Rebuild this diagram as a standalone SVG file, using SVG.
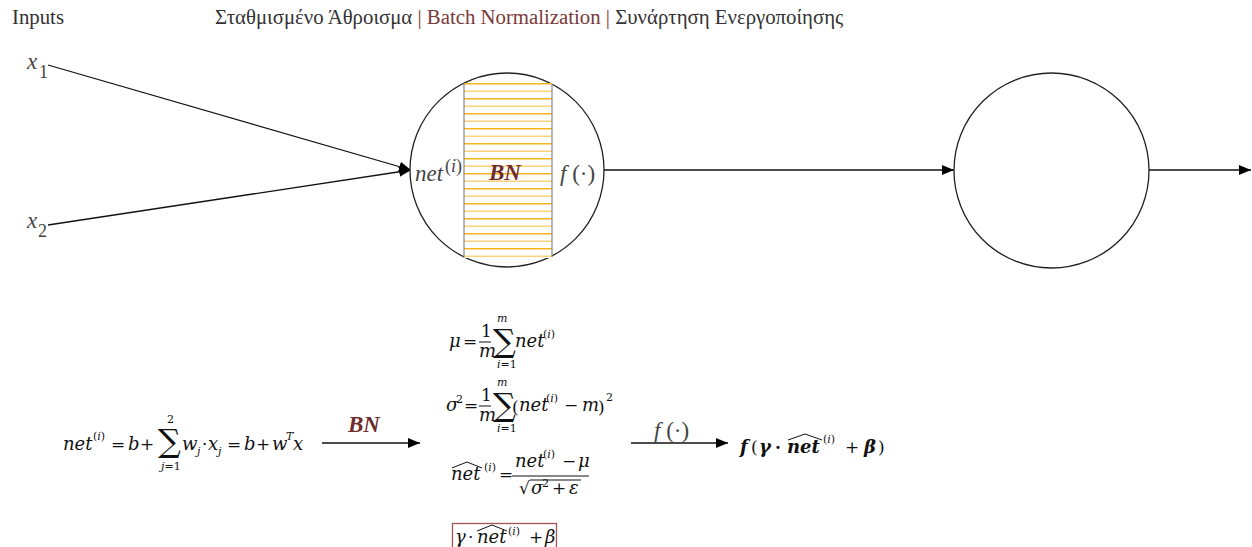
<svg xmlns="http://www.w3.org/2000/svg" width="1252" height="547" viewBox="0 0 1252 547">
<style>
.hdr{font-family:"Liberation Serif","Times New Roman",serif;font-size:20.8px;fill:#333}
.brn{fill:#7a3a3a}
.var{font-family:"Liberation Serif","Times New Roman",serif;font-style:italic;font-size:23px;fill:#444}
.sub{font-family:"Liberation Serif","Times New Roman",serif;font-size:18px;fill:#444}
.m{font-family:"DejaVu Serif",serif;font-style:italic;font-size:18px;fill:#111}
.mr{font-family:"DejaVu Serif",serif;font-size:17px;fill:#111}
.ms{font-family:"DejaVu Serif",serif;font-style:italic;font-size:11px;fill:#111}
.msr{font-family:"DejaVu Serif",serif;font-size:11px;fill:#111}
.sig{font-family:"DejaVu Serif",serif;font-size:32px;fill:#111}
.bn{font-family:"Liberation Serif","Times New Roman",serif;font-style:italic;font-weight:bold;font-size:23px;fill:#6e2c2c}
.node{fill:#fff;stroke:#222;stroke-width:1.3}
.edge{stroke:#111;stroke-width:1.3;fill:none}
.thin{stroke:#111;stroke-width:1;fill:none}
</style>
<defs>
<marker id="ah" markerWidth="12" markerHeight="10" refX="12" refY="5" orient="auto" markerUnits="userSpaceOnUse">
<path d="M0,0 L12,5 L0,10 Z" fill="#000"/>
</marker>
<pattern id="stripes" patternUnits="userSpaceOnUse" x="0" y="83" width="10" height="15">
<rect width="10" height="15" fill="#fff"/>
<line x1="0" y1="0.75" x2="10" y2="0.75" stroke="#f5b41e" stroke-width="1.5"/>
<line x1="0" y1="8.25" x2="10" y2="8.25" stroke="#fbd27a" stroke-width="1.5"/>
</pattern>
</defs>

<g id="header">
<text class="hdr" x="12" y="24">Inputs</text>
<text class="hdr" x="215" y="24">Σταθμισμένο Άθροισμα <tspan class="brn">| Batch Normalization |</tspan> Συνάρτηση Ενεργοποίησης</text>
</g>

<g id="connectors">
<line class="edge" x1="48" y1="65" x2="411" y2="170" marker-end="url(#ah)"/>
<line class="edge" x1="48" y1="225" x2="411" y2="170" marker-end="url(#ah)"/>
<line class="edge" x1="604" y1="170" x2="954" y2="170" marker-end="url(#ah)"/>
<line class="edge" x1="1149" y1="170" x2="1251" y2="170" marker-end="url(#ah)"/>
<line class="edge" x1="322" y1="443" x2="420" y2="443" marker-end="url(#ah)"/>
<line class="edge" x1="631" y1="443" x2="728" y2="443" marker-end="url(#ah)"/>
</g>

<g id="input-x1">
<text class="var" x="27" y="69">x</text><text class="sub" x="39" y="78">1</text>
</g>
<g id="input-x2">
<text class="var" x="27" y="228">x</text><text class="sub" x="38" y="237">2</text>
</g>

<g id="neuron1">
<circle class="node" cx="507" cy="170" r="97"/>
<rect x="464" y="83" width="88" height="175" fill="url(#stripes)"/>
<line x1="464" y1="83" x2="464" y2="258" stroke="#888" stroke-width="1.2"/>
<line x1="552" y1="84" x2="552" y2="257" stroke="#888" stroke-width="1.2"/>
<text class="var" x="415" y="181">net</text>
<text class="sub" x="445" y="172">(<tspan font-style="italic">i</tspan>)</text>
<text class="bn" x="489" y="180">BN</text>
<text class="var" x="560" y="181">f<tspan font-style="normal"> (·)</tspan></text>
</g>

<g id="neuron2">
<circle class="node" cx="1051.5" cy="170.5" r="97.5"/>
</g>

<g id="formula-net">
<text class="m" x="63" y="450">net</text>
<text class="msr" x="93" y="440" font-size="12">(<tspan font-style="italic">i</tspan>)</text>
<text class="mr" x="111" y="450">=</text>
<text class="m" x="128" y="450">b</text>
<text class="mr" x="140" y="450">+</text>
<text class="sig" x="158" y="452">∑</text>
<text class="msr" x="167" y="423">2</text>
<text class="ms" x="161" y="470">j<tspan font-style="normal">=1</tspan></text>
<text class="m" x="182" y="450">w</text>
<text class="ms" x="197" y="455" font-size="12">j</text>
<text class="mr" x="202" y="450">·</text>
<text class="m" x="208" y="450">x</text>
<text class="ms" x="218" y="455" font-size="12">j</text>
<text class="mr" x="227" y="450">=</text>
<text class="m" x="244" y="450">b</text>
<text class="mr" x="256" y="450">+</text>
<text class="m" x="272" y="450">w</text>
<text class="ms" x="286" y="440" font-size="12">T</text>
<text class="m" x="293" y="450">x</text>
</g>

<g id="label-bn">
<text class="bn" x="348" y="432">BN</text>
</g>

<g id="formula-mu">
<text class="m" x="449" y="347" font-size="16">μ</text>
<text class="mr" x="463" y="347" font-size="14">=</text>
<text class="mr" x="481" y="337" font-size="13">1</text>
<line class="thin" x1="479" y1="342" x2="491" y2="342"/>
<text class="m" x="479" y="357" font-size="12">m</text>
<text class="sig" x="493" y="352" font-size="28">∑</text>
<text class="ms" x="497" y="322" font-size="10">m</text>
<text class="ms" x="497" y="368" font-size="10">i<tspan font-style="normal">=1</tspan></text>
<text class="m" x="515" y="347" font-size="15.5">net</text>
<text class="msr" x="543" y="338" font-size="10">(<tspan font-style="italic">i</tspan>)</text>
</g>

<g id="formula-sigma">
<text class="m" x="446" y="411" font-size="16">σ</text>
<text class="msr" x="456" y="403" font-size="10">2</text>
<text class="mr" x="464" y="411" font-size="14">=</text>
<text class="mr" x="481" y="401" font-size="13">1</text>
<line class="thin" x1="479" y1="406" x2="491" y2="406"/>
<text class="m" x="479" y="421" font-size="12">m</text>
<text class="sig" x="493" y="416" font-size="28">∑</text>
<text class="ms" x="497" y="386" font-size="10">m</text>
<text class="ms" x="497" y="432" font-size="10">i<tspan font-style="normal">=1</tspan></text>
<text class="mr" x="512" y="413" font-size="20">(</text>
<text class="m" x="519" y="411" font-size="16">net</text>
<text class="msr" x="546" y="402" font-size="10">(<tspan font-style="italic">i</tspan>)</text>
<text class="mr" x="564" y="411" font-size="15">−</text>
<text class="m" x="582" y="411" font-size="15">m</text>
<text class="mr" x="598" y="413" font-size="20">)</text>
<text class="msr" x="606" y="401" font-size="10">2</text>
</g>

<g id="formula-nethat">
<text class="m" x="451" y="480" font-size="17">net</text>
<path class="thin" d="M452,468 L467,462 L482,468"/>
<text class="msr" x="484" y="471" font-size="11">(<tspan font-style="italic">i</tspan>)</text>
<text class="mr" x="499" y="480" font-size="14">=</text>
<text class="m" x="515" y="467" font-size="16">net</text>
<text class="msr" x="543" y="458" font-size="11">(<tspan font-style="italic">i</tspan>)</text>
<text class="mr" x="562" y="467" font-size="15">−</text>
<text class="m" x="578" y="467" font-size="16">μ</text>
<line class="thin" x1="512" y1="476" x2="589" y2="476"/>
<text class="mr" x="519" y="494" font-size="16">√</text>
<line class="thin" x1="530" y1="480" x2="581" y2="480"/>
<text class="m" x="531" y="494" font-size="16">σ</text>
<text class="msr" x="542" y="487" font-size="10">2</text>
<text class="mr" x="552" y="494" font-size="15">+</text>
<text class="m" x="569" y="494" font-size="16">ε</text>
</g>

<g id="formula-box">
<rect x="452.5" y="523.5" width="104" height="26" fill="none" stroke="#a05454" stroke-width="1.3"/>
<text class="m" x="455" y="543" font-size="17">γ</text>
<text class="mr" x="468" y="543">·</text>
<text class="m" x="477" y="543" font-size="17">net</text>
<path class="thin" d="M477,531 L492,525 L507,531"/>
<text class="msr" x="508" y="535" font-size="11">(<tspan font-style="italic">i</tspan>)</text>
<text class="mr" x="529" y="543" font-size="16">+</text>
<text class="m" x="545" y="543" font-size="17">β</text>
</g>

<g id="label-f">
<text class="var" x="654" y="438">f<tspan font-style="normal"> (·)</tspan></text>
</g>

<g id="formula-result">
<text class="m" x="740" y="453" font-size="20" font-weight="bold">f</text>
<text class="mr" x="751" y="453" font-size="20">(</text>
<text class="m" x="759" y="453" font-size="20" font-weight="bold">γ</text>
<text class="mr" x="775" y="453" font-size="20" font-weight="bold">·</text>
<text class="m" x="787" y="453" font-size="19" font-weight="bold">net</text>
<path class="thin" d="M788,440 L805,434 L822,440" stroke-width="1.3"/>
<text class="msr" x="823" y="443" font-size="12">(<tspan font-style="italic">i</tspan>)</text>
<text class="mr" x="845" y="453" font-size="19">+</text>
<text class="m" x="864" y="453" font-size="20" font-weight="bold">β</text>
<text class="mr" x="878" y="453" font-size="20">)</text>
</g>
</svg>
